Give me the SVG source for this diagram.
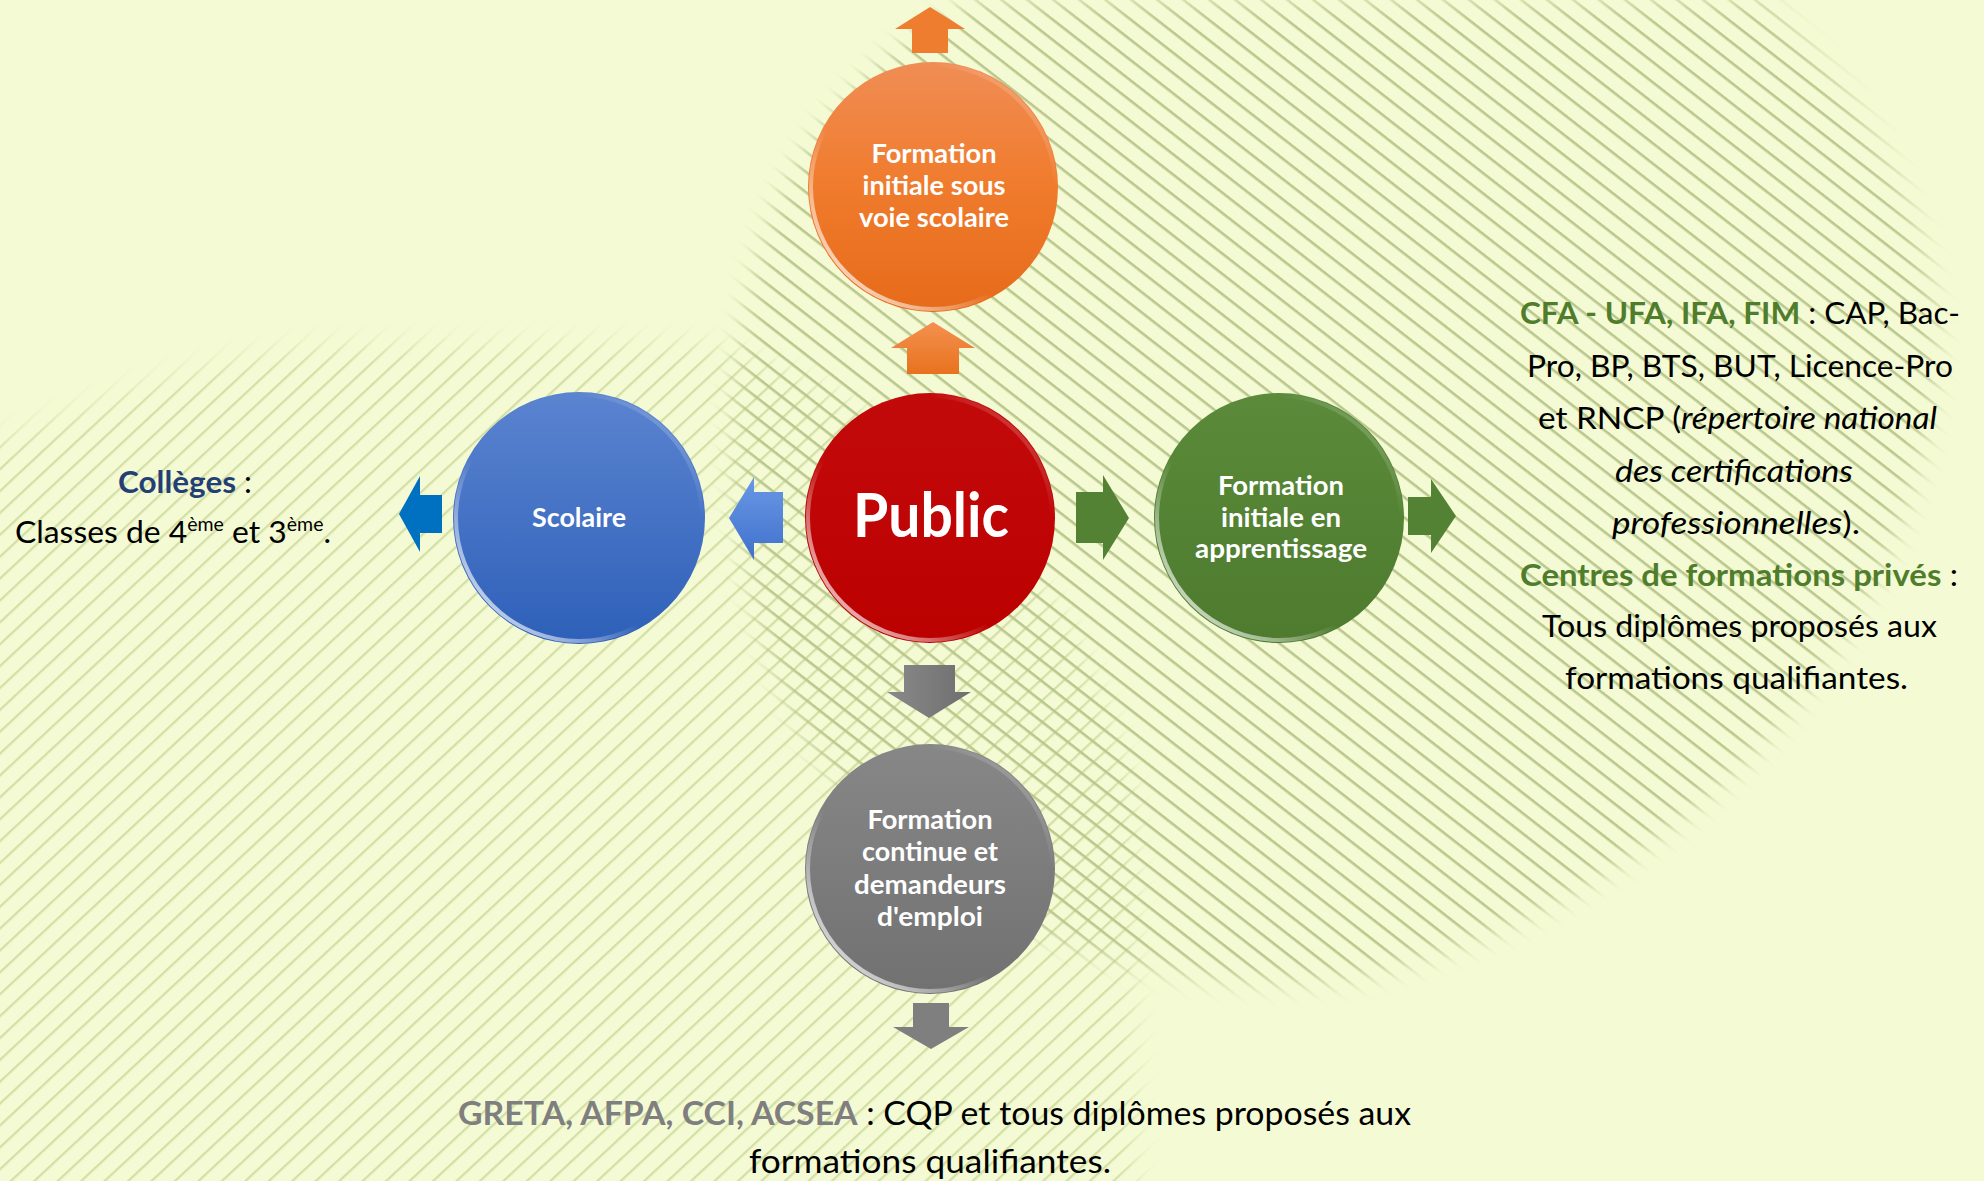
<svg xmlns="http://www.w3.org/2000/svg" width="1984" height="1181" viewBox="0 0 1984 1181">
<style>
.lbl{font-family:Lato,'Open Sans','Liberation Sans',sans-serif;font-weight:700;fill:#ffffff;font-size:26px;text-anchor:middle}
.note{font-family:Lato,'Open Sans','Liberation Sans',sans-serif;font-size:31px;fill:#000000}
.bg{font-weight:700;fill:#4f7d2c}
.bn{font-weight:700;fill:#243f74}
.bgr{font-weight:700;fill:#7f7f7f}
.it{font-style:italic}
.sup{font-size:19px}
.rim{fill:none;stroke:url(#rim);stroke-width:4}
</style>
<defs>
<pattern id="hatchR" patternUnits="userSpaceOnUse" width="60" height="16" patternTransform="rotate(38)">
<rect x="0" y="6" width="60" height="2.6" fill="#bac78c"/>
</pattern>
<pattern id="hatchL" patternUnits="userSpaceOnUse" width="60" height="16" patternTransform="rotate(-43)">
<rect x="0" y="6" width="60" height="2.3" fill="#d4dfa6"/>
</pattern>
<filter id="soft" x="-20%" y="-20%" width="140%" height="140%"><feGaussianBlur stdDeviation="12"/></filter>
<mask id="mR" maskUnits="userSpaceOnUse" x="0" y="0" width="1984" height="1181">
<path d="M975 0 L1763 0 C1880 110 1950 250 1935 380 C1915 620 1700 900 1350 980 C1150 1000 950 930 820 760 C730 620 705 420 765 230 C805 120 890 40 975 0 Z" fill="#fff" filter="url(#soft)"/>
</mask>
<mask id="mL" maskUnits="userSpaceOnUse" x="0" y="0" width="1984" height="1181">
<path d="M-30 450 C80 410 200 355 330 345 L700 343 C900 390 1080 560 1135 800 L1135 1220 L-30 1220 Z" fill="#fff" filter="url(#soft)"/>
</mask>
<linearGradient id="gOrange" x1="0" y1="0" x2="0" y2="1"><stop offset="0" stop-color="#f08d55"/><stop offset="0.5" stop-color="#f07b2c"/><stop offset="1" stop-color="#e66b1a"/></linearGradient>
<linearGradient id="gBlue" x1="0" y1="0" x2="0" y2="1"><stop offset="0" stop-color="#5b84d0"/><stop offset="1" stop-color="#2e60b9"/></linearGradient>
<linearGradient id="gRed" x1="0" y1="0" x2="0" y2="1"><stop offset="0" stop-color="#c30a0a"/><stop offset="1" stop-color="#bb0000"/></linearGradient>
<linearGradient id="gGreen" x1="0" y1="0" x2="0" y2="1"><stop offset="0" stop-color="#5a8a3a"/><stop offset="1" stop-color="#4e7b2e"/></linearGradient>
<linearGradient id="gGray" x1="0" y1="0" x2="0" y2="1"><stop offset="0" stop-color="#878787"/><stop offset="1" stop-color="#717171"/></linearGradient>
<linearGradient id="rim" x1="0" y1="1" x2="1" y2="0">
<stop offset="0" stop-color="#ffffff" stop-opacity="0.95"/>
<stop offset="0.22" stop-color="#ffffff" stop-opacity="0.5"/>
<stop offset="0.4" stop-color="#ffffff" stop-opacity="0"/>
<stop offset="0.75" stop-color="#ffffff" stop-opacity="0"/>
<stop offset="1" stop-color="#ffffff" stop-opacity="0.4"/>
</linearGradient>
<linearGradient id="aOrange" x1="0" y1="0" x2="0" y2="1"><stop offset="0" stop-color="#f4914f"/><stop offset="1" stop-color="#e8721f"/></linearGradient>
<linearGradient id="aBlue" x1="0" y1="0" x2="0" y2="1"><stop offset="0" stop-color="#6b98e6"/><stop offset="1" stop-color="#3f71cc"/></linearGradient>
<linearGradient id="aGray" x1="0" y1="0" x2="1" y2="0"><stop offset="0" stop-color="#8a8a8a"/><stop offset="1" stop-color="#6e6e6e"/></linearGradient>
</defs>

<rect x="0" y="0" width="1984" height="1181" fill="#f4fbd4"/>
<rect x="0" y="0" width="1984" height="1181" fill="url(#hatchL)" mask="url(#mL)"/>
<rect x="0" y="0" width="1984" height="1181" fill="url(#hatchR)" mask="url(#mR)"/>

<g id="connectors">
<polygon points="930,7 965,29 948,29 948,53 912,53 912,29 895,29" fill="#ef7d30"/>
<polygon points="933,322 975,348 959,348 959,374 907,374 907,348 891,348" fill="url(#aOrange)"/>
<polygon points="729,518 754,477 754,492 783,492 783,543 754,543 754,560" fill="url(#aBlue)"/>
<polygon points="399,514 420,476 420,495 442,495 442,533 420,533 420,552" fill="#0070c0"/>
<polygon points="1129,518 1103,475 1103,492 1076,492 1076,543 1103,543 1103,560" fill="#548235"/>
<polygon points="1456,516 1431,479 1431,497 1408,497 1408,535 1431,535 1431,553" fill="#548235"/>
<polygon points="929,718 971,692 955,692 955,665 904,665 904,692 887,692" fill="url(#aGray)"/>
<polygon points="931,1049 969,1027 949,1027 949,1003 913,1003 913,1027 893,1027" fill="#7f7f7f"/>
</g>

<g id="node-orange">
<circle cx="933" cy="187" r="125" fill="url(#gOrange)"/>
<circle class="rim" cx="933" cy="187" r="122"/>
<text class="lbl" x="934" y="163" textLength="125" lengthAdjust="spacingAndGlyphs">Formation</text>
<text class="lbl" x="934" y="195" textLength="143" lengthAdjust="spacingAndGlyphs">initiale sous</text>
<text class="lbl" x="934" y="227" textLength="150" lengthAdjust="spacingAndGlyphs">voie scolaire</text>
</g>

<g id="node-scolaire">
<circle cx="579" cy="518" r="126" fill="url(#gBlue)"/>
<circle class="rim" cx="579" cy="518" r="123"/>
<text class="lbl" x="579" y="527" textLength="94" lengthAdjust="spacingAndGlyphs">Scolaire</text>
</g>

<g id="node-public">
<circle cx="930" cy="518" r="125" fill="url(#gRed)"/>
<circle class="rim" cx="930" cy="518" r="122"/>
<text class="lbl" x="931" y="537" style="font-size:62px" textLength="156" lengthAdjust="spacingAndGlyphs">Public</text>
</g>

<g id="node-apprentissage">
<circle cx="1279" cy="518" r="125" fill="url(#gGreen)"/>
<circle class="rim" cx="1279" cy="518" r="122"/>
<text class="lbl" x="1281" y="495" textLength="126" lengthAdjust="spacingAndGlyphs">Formation</text>
<text class="lbl" x="1281" y="527" textLength="120" lengthAdjust="spacingAndGlyphs">initiale en</text>
<text class="lbl" x="1281" y="558" textLength="172" lengthAdjust="spacingAndGlyphs">apprentissage</text>
</g>

<g id="node-continue">
<circle cx="930" cy="869" r="125" fill="url(#gGray)"/>
<circle class="rim" cx="930" cy="869" r="122"/>
<text class="lbl" x="930" y="829" textLength="125" lengthAdjust="spacingAndGlyphs">Formation</text>
<text class="lbl" x="930" y="861" textLength="136" lengthAdjust="spacingAndGlyphs">continue et</text>
<text class="lbl" x="930" y="894" textLength="152" lengthAdjust="spacingAndGlyphs">demandeurs</text>
<text class="lbl" x="930" y="926" textLength="106" lengthAdjust="spacingAndGlyphs">d'emploi</text>
</g>

<g id="text-colleges">
<text class="note" x="118" y="493" textLength="134" lengthAdjust="spacingAndGlyphs"><tspan class="bn">Collèges</tspan> :</text>
<text class="note" x="15" y="543" textLength="316" lengthAdjust="spacingAndGlyphs">Classes de 4<tspan class="sup" dy="-12">ème</tspan><tspan dy="12"> et 3</tspan><tspan class="sup" dy="-12">ème</tspan><tspan dy="12">.</tspan></text>
</g>

<g id="text-apprentissage">
<text class="note" x="1520" y="324" textLength="440" lengthAdjust="spacingAndGlyphs"><tspan class="bg">CFA - UFA, IFA, FIM</tspan> : CAP, Bac-</text>
<text class="note" x="1527" y="377" textLength="426" lengthAdjust="spacingAndGlyphs">Pro, BP, BTS, BUT, Licence-Pro</text>
<text class="note" x="1538" y="429" textLength="399" lengthAdjust="spacingAndGlyphs">et RNCP (<tspan class="it">répertoire national</tspan></text>
<text class="note it" x="1615" y="482" textLength="238" lengthAdjust="spacingAndGlyphs">des certifications</text>
<text class="note" x="1612" y="534" textLength="248" lengthAdjust="spacingAndGlyphs"><tspan class="it">professionnelles</tspan>).</text>
<text class="note" x="1520" y="586" textLength="438" lengthAdjust="spacingAndGlyphs"><tspan class="bg">Centres de formations privés</tspan> :</text>
<text class="note" x="1542" y="637" textLength="395" lengthAdjust="spacingAndGlyphs">Tous diplômes proposés aux</text>
<text class="note" x="1565" y="689" textLength="343" lengthAdjust="spacingAndGlyphs">formations qualifiantes.</text>
</g>

<g id="text-continue">
<text class="note" x="458" y="1125" style="font-size:32px" textLength="953" lengthAdjust="spacingAndGlyphs"><tspan class="bgr">GRETA, AFPA, CCI, ACSEA</tspan> : CQP et tous diplômes proposés aux</text>
<text class="note" x="749" y="1173" style="font-size:32px" textLength="362" lengthAdjust="spacingAndGlyphs">formations qualifiantes.</text>
</g>
</svg>
